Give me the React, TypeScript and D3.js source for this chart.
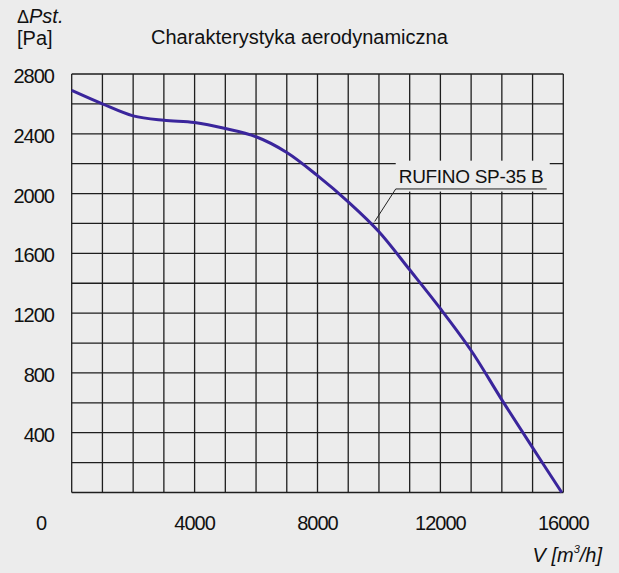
import React from "react";
import * as d3 from "d3";

// fan curve
const flowV = [0, 1000, 2000, 3000, 4000, 5000, 6000, 7000, 8000, 9000, 10000, 11000, 12000, 13000, 14000, 15000, 15950];
const pressureP = [2690, 2600, 2520, 2490, 2475, 2435, 2380, 2275, 2120, 1945, 1745, 1490, 1230, 950, 620, 300, 0];

const xTickLabels = [4000, 8000, 12000, 16000];
const yTickLabels = [400, 800, 1200, 1600, 2000, 2400, 2800];
const seriesName = "RUFINO SP-35 B";
const labelAnchor = { v: 9830, p: 1800 };

const W = 619;
const H = 573;
const BG = "#ececec";
const FONT = "'Liberation Sans', Arial, sans-serif";

export default function App() {
  const x = d3.scaleLinear().domain([0, 16000]).range([71.7, 563.3]);
  const y = d3.scaleLinear().domain([0, 2800]).range([492.5, 74]);

  const vGrid = d3.range(0, 16001, 1000);
  const hGrid = d3.range(0, 2801, 200);

  const pts = flowV.map((v, i) => [v, pressureP[i]] as [number, number]);
  const line = d3
    .line<[number, number]>()
    .x(d => x(d[0]))
    .y(d => y(d[1]))
    .curve(d3.curveCatmullRom.alpha(0.5));

  const ax = x(labelAnchor.v);
  const ay = y(labelAnchor.p);
  const ulX = ax + 22;
  const ulY = ay - 34.5;

  return (
    <svg
      width={W}
      height={H}
      style={{ position: "absolute", left: 0, top: 0 }}
      fontFamily={FONT}
    >
      <rect width={W} height={H} fill={BG} />

      <g stroke="#1e1e1e" strokeWidth={1.3}>
        {vGrid.map(v => (
          <line key={"v" + v} x1={x(v)} x2={x(v)} y1={y(0)} y2={y(2800)} />
        ))}
        {hGrid.map(p => (
          <line key={"h" + p} x1={x(0)} x2={x(16000)} y1={y(p)} y2={y(p)} />
        ))}
      </g>

      {/* label box hides the grid behind the series name */}
      <rect x={ulX} y={y(2200) - 3} width={154} height={y(2000) - y(2200) + 1} fill={BG} />
      <line x1={ulX} x2={ulX + 151} y1={ulY} y2={ulY} stroke="#222" strokeWidth={1} />
      <line x1={ulX} y1={ulY} x2={ax + 1} y2={ay - 2} stroke="#222" strokeWidth={1} />
      <text x={ulX + 3} y={ulY - 6} fontSize={19} fill="#111" letterSpacing={-0.3}>
        {seriesName}
      </text>

      <path d={line(pts) || ""} fill="none" stroke="#3a259c" strokeWidth={3} />

      <g fontSize={20} fill="#111" letterSpacing={-1}>
        {yTickLabels.map(p => (
          <text key={p} x={54} y={y(p) + 9} textAnchor="end">
            {p}
          </text>
        ))}
        <text x={41} y={530} textAnchor="middle">0</text>
        {xTickLabels.map(v => (
          <text key={v} x={x(v)} y={530} textAnchor="middle">
            {v}
          </text>
        ))}
      </g>

      <text x={151} y={44} fontSize={20} fill="#111">
        Charakterystyka aerodynamiczna
      </text>

      <text x={17} y={23} fontSize={18} fill="#111">
        <tspan>Δ</tspan>
        <tspan fontStyle="italic" fontSize={20}>Pst.</tspan>
      </text>
      <text x={17} y={45} fontSize={20} fill="#111">
        [Pa]
      </text>

      <text x={602} y={562} fontSize={20} fill="#111" fontStyle="italic" textAnchor="end">
        V [m
        <tspan fontSize={11} dy={-9}>3</tspan>
        <tspan dy={9}>/h]</tspan>
      </text>
    </svg>
  );
}
